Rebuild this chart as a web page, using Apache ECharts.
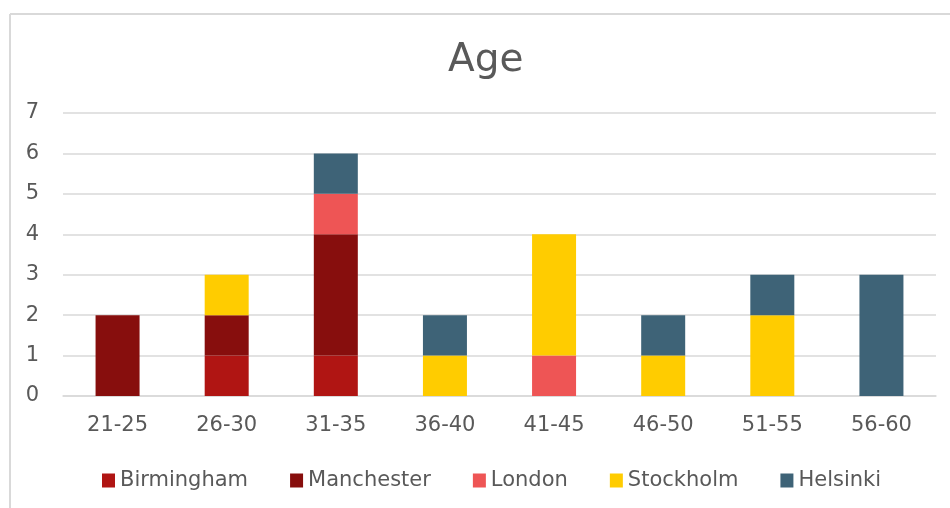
<!DOCTYPE html>
<html><head><meta charset="utf-8">
<script src="https://cdn.jsdelivr.net/npm/echarts@6/dist/echarts.min.js"></script>
<style>html,body{margin:0;padding:0;background:#fff}#c{width:950px;height:508px}</style>
</head><body><div id="c"></div>
<script>
const categories = ['21-25','26-30','31-35','36-40','41-45','46-50','51-55','56-60'];
const seriesNames = ['Birmingham','Manchester','London','Stockholm','Helsinki'];
const birmingham = [0,1,1,0,0,0,0,0];
const manchester = [2,1,3,0,0,0,0,0];
const london     = [0,0,1,0,1,0,0,0];
const stockholm  = [0,1,0,1,3,1,2,0];
const helsinki   = [0,0,1,1,0,1,1,3];
const yTicks = [0,1,2,3,4,5,6,7];
const colors = ['#B01513','#870E0D','#EE5555','#FFCC00','#3E6377'];
const values = [birmingham, manchester, london, stockholm, helsinki];
const font = 'DejaVu Sans';
const chart = echarts.init(document.getElementById('c'), null, {renderer:'canvas'});
chart.setOption({
  animation:false,
  title:{text:'Age', left:443, top:36, textStyle:{fontFamily:font, fontSize:39, fontWeight:'normal', color:'#595959'}},
  grid:{left:63, right:14, top:113, bottom:112},
  legend:{bottom:12, left:97, itemWidth:13, itemHeight:14, itemGap:42, icon:'rect',
    textStyle:{fontFamily:font, fontSize:21, color:'#595959'}, data:seriesNames},
  xAxis:{type:'category', data:categories,
    axisLine:{lineStyle:{color:'#d9d9d9', width:1.5}}, axisTick:{show:false},
    axisLabel:{fontFamily:font, fontSize:21, color:'#595959', margin:19}},
  yAxis:{type:'value', min:yTicks[0], max:yTicks[yTicks.length-1], interval:1,
    axisLine:{show:false}, axisTick:{show:false},
    splitLine:{lineStyle:{color:'#d9d9d9', width:1.5}},
    axisLabel:{fontFamily:font, fontSize:21, color:'#595959', margin:24}},
  graphic:[
    {type:'line', shape:{x1:10, y1:14, x2:950, y2:14}, style:{stroke:'#d9d9d9', lineWidth:2}},
    {type:'line', shape:{x1:10, y1:14, x2:10, y2:508}, style:{stroke:'#d9d9d9', lineWidth:2}}
  ],
  series: seriesNames.map((n,i)=>({name:n, type:'bar', stack:'total', barWidth:44,
    itemStyle:{color:colors[i]}, data:values[i]}))
});
</script></body></html>
